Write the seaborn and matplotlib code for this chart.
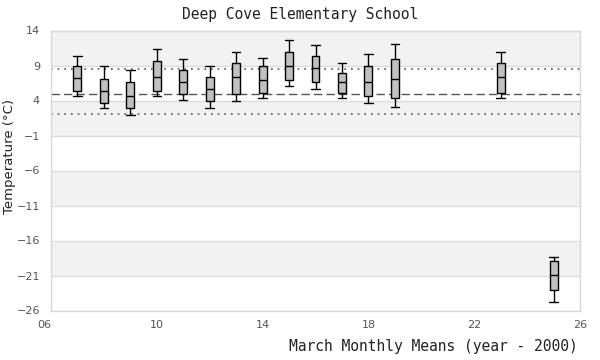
import numpy as np
import pandas as pd
import matplotlib
matplotlib.use("Agg")
import matplotlib.pyplot as plt
import seaborn as sns

# ---- data ----
years   = [7, 8, 9, 10, 11, 12, 13, 14, 15, 16, 17, 18, 19, 23, 25]
lows    = [4.6, 2.9, 1.9, 4.6, 4.1, 2.9, 4.0, 4.3, 6.1, 5.7, 4.3, 3.6, 3.1, 4.3, -24.8]
q1s     = [5.4, 3.7, 2.9, 5.3, 5.0, 3.9, 5.0, 5.1, 6.9, 6.6, 5.1, 4.6, 4.3, 5.1, -23.1]
medians = [7.2, 5.4, 4.7, 7.4, 6.7, 5.6, 7.3, 7.0, 8.9, 8.6, 6.6, 6.7, 7.1, 7.3, -20.9]
q3s     = [9.0, 7.1, 6.7, 9.6, 8.3, 7.4, 9.4, 8.9, 10.9, 10.4, 8.0, 9.0, 9.9, 9.4, -18.9]
highs   = [10.4, 8.9, 8.4, 11.3, 9.9, 8.9, 11.0, 10.1, 12.6, 11.9, 9.3, 10.6, 12.1, 10.9, -18.4]
upper_ref = 8.55
mean_ref = 4.95
lower_ref = 2.1
yticks = [-26, -21, -16, -11, -6, -1, 4, 9, 14]
xticks = [6, 10, 14, 18, 22, 26]
xticklabels = ["06", "10", "14", "18", "22", "26"]

rows = []
for y, a, b, c, d, e in zip(years, lows, q1s, medians, q3s, highs):
    for v in (a, b, c, d, e):
        rows.append({"year": y, "temp": v})
df = pd.DataFrame(rows)

sns.set_theme(style="white")
mono = ["DejaVu Sans Mono"]

fig = plt.figure(figsize=(6, 3.6), dpi=100)
ax = fig.add_axes([51/600, 1 - 310.5/360, 529/600, 280/360])

# alternating bands (top band gray)
n = len(yticks) - 1
for i in range(n):
    lo, hi = yticks[i], yticks[i + 1]
    if (n - 1 - i) % 2 == 0:
        ax.axhspan(lo, hi, facecolor="#f2f2f2", zorder=0, lw=0)
for t in yticks:
    ax.axhline(t, color="#dcdcdc", lw=1, zorder=0.5)

ax.axhline(upper_ref, color="#555555", lw=1.2, ls=(0, (1, 3)), zorder=1)
ax.axhline(lower_ref, color="#555555", lw=1.2, ls=(0, (1, 3)), zorder=1)
ax.axhline(mean_ref, color="#555555", lw=1.0, ls=(0, (6, 3)), zorder=1)

sns.boxplot(data=df, x="year", y="temp", native_scale=True, whis=(0, 100),
            width=0.3, color="#c0c0c0", saturation=1, linecolor="black",
            linewidth=1, fliersize=0, ax=ax, capwidths=0.32, zorder=3)

ax.set_xlim(6, 26)
ax.set_ylim(-26, 14)
ax.set_yticks(yticks)
ax.set_xticks(xticks)
ax.set_xticklabels(xticklabels)
ax.tick_params(axis="y", labelsize=8, colors="#555555", length=0, pad=8)
ax.tick_params(axis="x", labelsize=8, colors="#555555", length=0, pad=7)
ax.get_xticklabels()[0].set_ha("right")
for s in ax.spines.values():
    s.set_color("#d8d8d8")
    s.set_linewidth(1)
ax.set_xlabel("")
ax.set_ylabel("")

fig.text(0.5, 1 - 14/360, "Deep Cove Elementary School", ha="center", va="center",
         fontsize=10.5, family=mono, color="#222222")
fig.text(578/600, 1 - 347/360, "March Monthly Means (year - 2000)", ha="right",
         va="center", fontsize=10.5, family=mono, color="#222222")
fig.text(10/600, 1 - 157/360, "Temperature (°C)", ha="center", va="center",
         rotation=90, fontsize=9.5, family=["DejaVu Sans"], color="#222222")

fig.savefig("out.png", dpi=100)
